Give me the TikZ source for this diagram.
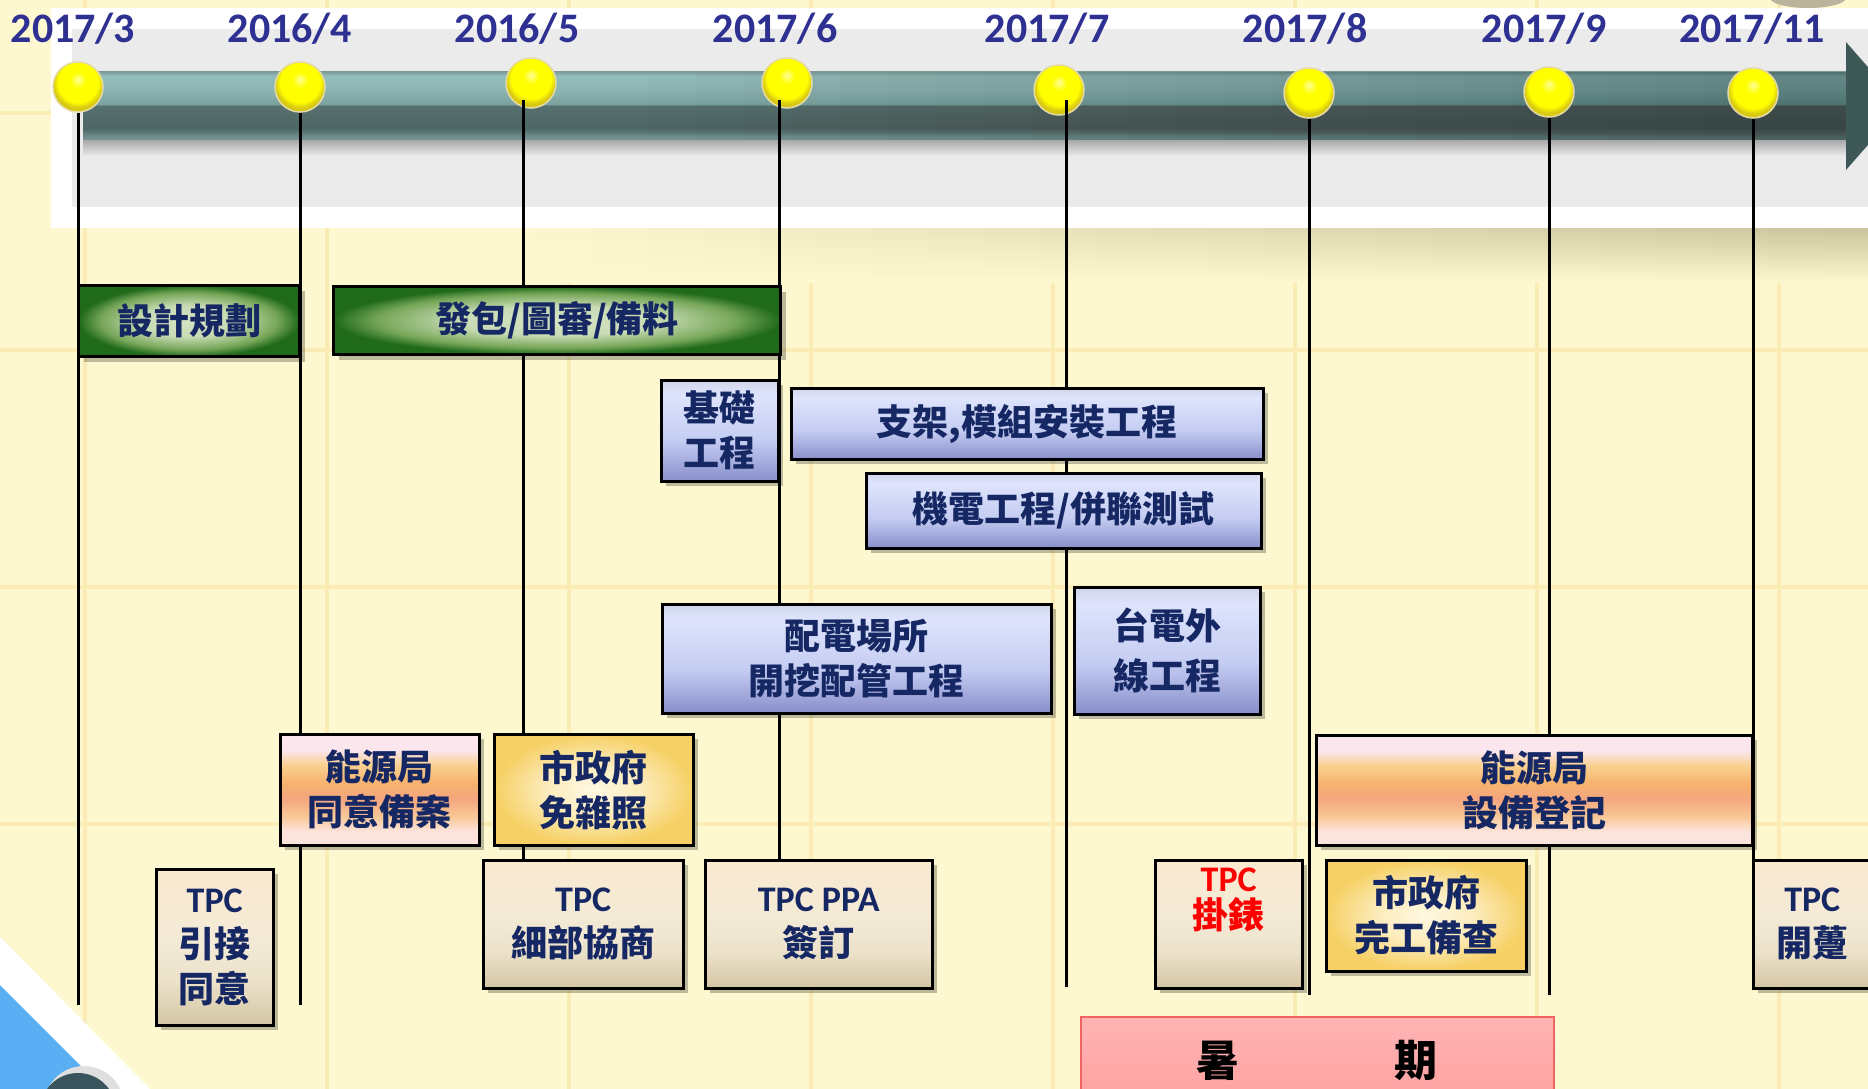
\documentclass[tikz,border=0pt]{standalone}
\usepackage{fontspec}
\setmainfont{Carlito}
\newfontfamily\lat{Carlito}
\newfontfamily\cjk{Noto Sans CJK TC}
\usetikzlibrary{shadows}

% colours
\definecolor{bgyellow}{RGB}{253,248,208}
\definecolor{gridyellow}{RGB}{250,236,180}
\definecolor{datecol}{RGB}{46,49,146}
\definecolor{navy}{RGB}{22,40,100}
\definecolor{panelgray}{RGB}{235,235,235}
\definecolor{panelshade}{RGB}{200,194,154}
\definecolor{arrowdark}{RGB}{62,88,88}
\definecolor{pinrim}{RGB}{228,218,165}
\definecolor{pinhi}{RGB}{255,255,150}
\definecolor{pinedge}{RGB}{215,200,20}
\definecolor{cornerblue}{RGB}{90,174,243}
\definecolor{cornerdark}{RGB}{58,84,94}
\definecolor{blobgray}{RGB}{185,180,155}
\definecolor{summertop}{RGB}{255,180,180}
\definecolor{summerbot}{RGB}{255,160,160}
\definecolor{summerline}{RGB}{240,100,100}
% box fills
\definecolor{glight}{RGB}{214,228,196}
\definecolor{gmid}{RGB}{118,166,88}
\definecolor{gdark}{RGB}{32,106,28}
\definecolor{btop}{RGB}{222,228,252}
\definecolor{bmid}{RGB}{196,204,242}
\definecolor{bbot}{RGB}{136,142,202}
\definecolor{pk1}{RGB}{251,230,238}
\definecolor{pk2}{RGB}{249,208,142}
\definecolor{pk3}{RGB}{246,178,110}
\definecolor{pk4}{RGB}{245,166,126}
\definecolor{pk5}{RGB}{248,200,150}
\definecolor{pk6}{RGB}{252,228,222}
\definecolor{gold1}{RGB}{255,248,226}
\definecolor{gold2}{RGB}{246,208,100}
\definecolor{tan1}{RGB}{251,233,208}
\definecolor{tan2}{RGB}{243,234,214}
\definecolor{tan3}{RGB}{212,198,164}
% bar
\definecolor{bar1}{RGB}{127,159,157}
\definecolor{bar2}{RGB}{147,190,188}
\definecolor{bar3}{RGB}{140,181,178}
\definecolor{bar4}{RGB}{124,162,159}
\definecolor{bar5}{RGB}{85,112,110}
\definecolor{bar6}{RGB}{78,102,100}
\definecolor{bar7}{RGB}{90,118,116}
\definecolor{bar8}{RGB}{110,141,139}
\definecolor{bar9}{RGB}{122,150,148}

\pgfdeclareradialshading{yball}{\pgfpoint{0bp}{8bp}}{color(0bp)=(pinhi); color(8bp)=(yellow); color(20bp)=(yellow); color(25bp)=(pinedge); color(50bp)=(pinedge)}
\pgfdeclareradialshading{greenglow}{\pgfpoint{0bp}{0bp}}{color(0bp)=(glight); color(11bp)=(glight!85!gmid); color(20bp)=(gmid); color(25bp)=(gdark); color(50bp)=(gdark)}
\pgfdeclareradialshading{goldglow}{\pgfpoint{0bp}{0bp}}{color(0bp)=(gold1); color(12bp)=(gold1!70!gold2); color(25bp)=(gold2); color(50bp)=(gold2)}
\pgfdeclareverticalshading{bluefade}{100bp}{color(0bp)=(bbot); color(25bp)=(bbot); color(45bp)=(bmid); color(68bp)=(btop); color(75bp)=(btop!85!gray); color(100bp)=(btop!85!gray)}
\pgfdeclareverticalshading{peachband}{100bp}{color(0bp)=(pk6); color(31bp)=(pk6); color(38bp)=(pk5); color(46bp)=(pk4); color(53bp)=(pk3); color(61bp)=(pk2); color(68bp)=(pk1); color(100bp)=(pk1)}
\pgfdeclareverticalshading{tanfade}{100bp}{color(0bp)=(tan3); color(25bp)=(tan3); color(40bp)=(tan2!80!tan3); color(52bp)=(tan2); color(75bp)=(tan1); color(100bp)=(tan1)}
\pgfdeclareverticalshading{tlbar}{100bp}{color(0bp)=(bar9); color(25bp)=(bar9); color(28bp)=(bar8); color(31bp)=(bar7); color(34bp)=(bar6); color(50bp)=(bar5); color(51.5bp)=(bar4); color(62bp)=(bar3); color(72bp)=(bar2); color(75bp)=(bar1); color(100bp)=(bar1)}

\pgfdeclarelayer{back}
\pgfdeclarelayer{stems}
\pgfsetlayers{back,stems,main}

\tikzset{
	datelbl/.style={anchor=base, text=datecol, font=\lat\bfseries\fontsize{42}{50}\selectfont},
	yellowpin/.style={circle, minimum size=50pt, inner sep=0pt, shade, shading=yball, draw=pinrim, line width=1.5pt},
	stemline/.style={line width=3pt, black},
	bggrid/.style={gridyellow, line width=4pt},
	taskbox/.style={draw=black, line width=2.5pt, anchor=north west, align=center, inner sep=0pt,
		text=navy, font=\cjk\bfseries\fontsize{36}{45}\selectfont,
		drop shadow={shadow xshift=5pt, shadow yshift=-5pt, opacity=.25, fill=black}},
	greenbox/.style={taskbox, line width=3pt, shade, shading=greenglow},
	bluebox/.style={taskbox, shade, shading=bluefade},
	peachbox/.style={taskbox, shade, shading=peachband},
	goldbox/.style={taskbox, shade, shading=goldglow},
	tanbox/.style={taskbox, shade, shading=tanfade},
	redlbl/.style={anchor=north, align=center, inner sep=0pt, text=red, font=\cjk\bfseries\fontsize{36}{37}\selectfont},
	summerbox/.style={draw=summerline, line width=1.5pt, anchor=north west, inner sep=0pt,
		top color=summertop, bottom color=summerbot, text=black, font=\cjk\bfseries\fontsize{43}{50}\selectfont}
}

\begin{document}
\begin{tikzpicture}[x=1pt,y=-1pt]
	\useasboundingbox (0,0) rectangle (1868,1089);

	\begin{pgfonlayer}{back}
		% background and grid
		\fill[bgyellow] (0,0) rectangle (1868,1089);
		\foreach \x in {85,327,...,1779} \draw[bggrid] (\x,0) -- (\x,1089);
		\foreach \y in {113,350,...,1059} \draw[bggrid] (0,\y) -- (1868,\y);

		% corner decorations
		\fill[blobgray] (1808,-2) ellipse (38 and 10);
		\fill[white] (0,937) -- (150,1089) -- (0,1089) -- cycle;
		\fill[cornerblue] (0,985) -- (104,1089) -- (0,1089) -- cycle;
		\fill[gray!25] (84,1106) circle (40);
		\fill[cornerdark] (78,1111) circle (38);

		% panel behind the time line
		\foreach \i in {0,...,24}
			\shade[top color=panelshade!\the\numexpr 4*\i\relax!bgyellow, bottom color=bgyellow]
				(480+56*\i,228) rectangle (540+56*\i,282);
		\fill[white] (51,8) rectangle (1880,228);
		\fill[panelgray] (72,29) rectangle (1880,207);

		% time line bar
		\shade[top color=gray!75, bottom color=panelgray] (83,138) rectangle (1850,156);
		\shade[shading=tlbar] (83,72) rectangle (1852,140);
		\foreach \i in {1,...,24}
			\fill[black, opacity=.013] (600+48*\i,72) rectangle (1852,140);
		\fill[arrowdark] (1846,42) -- (1902,106) -- (1846,170) -- cycle;

		% month pins
		\foreach \x/\y [count=\i] in {78/87, 300/87, 531/83, 787/83, 1059/90, 1309/93, 1549/92, 1753/93}
			\node[yellowpin] (b\i) at (\x,\y) {};
	\end{pgfonlayer}

	% month labels
	\foreach \x/\yr/\mo in {73/2017/3, 290/2016/4, 517/2016/5, 775/2017/6, 1047/2017/7, 1305/2017/8, 1544/2017/9, 1752/2017/11}
		\node[datelbl] (d\mo) at (\x,43) {\yr/\mo};

	%% Tasks %%
	\node[greenbox, minimum width=221pt, minimum height=71pt] (plan) at (77,284) {設計規劃};
	\node[greenbox, minimum width=447pt, minimum height=68pt] (bid) at (332,285) {發包/圖審/備料};

	\node[bluebox, minimum width=117pt, minimum height=101pt] (found) at (660,379) {基礎\\工程};
	\node[bluebox, minimum width=472pt, minimum height=71pt] (mount) at (790,387) {支架,模組安裝工程};
	\node[bluebox, minimum width=395pt, minimum height=75pt] (elec) at (865,472) {機電工程/併聯測試};
	\node[bluebox, minimum width=389pt, minimum height=109pt] (sub) at (661,603) {配電場所\\開挖配管工程};
	\node[bluebox, minimum width=186pt, minimum height=127pt] (ext) at (1073,586) {台電外\\[5pt]線工程};

	% permits
	\node[peachbox, minimum width=199pt, minimum height=111pt] (moea1) at (279,733) {能源局\\同意備案};
	\node[goldbox, minimum width=199pt, minimum height=111pt] (city1) at (493,733) {市政府\\免雜照};
	\node[peachbox, minimum width=436pt, minimum height=110pt] (moea2) at (1315,734) {能源局\\設備登記};
	\node[goldbox, minimum width=200pt, minimum height=111pt] (city2) at (1325,859) {市政府\\完工備查};

	% TPC steps
	\node[tanbox, minimum width=117pt, minimum height=156pt] (tpc1) at (155,868) {{\lat TPC}\\引接\\同意};
	\node[tanbox, minimum width=200pt, minimum height=128pt] (tpc2) at (482,859) {{\lat TPC}\\細部協商};
	\node[tanbox, minimum width=227pt, minimum height=128pt] (tpc3) at (704,859) {{\lat TPC PPA}\\簽訂};
	\node[tanbox, minimum width=147pt, minimum height=128pt] (tpc4) at (1154,859) {};
	\node[redlbl] (tpc4txt) at ([yshift=-9pt]tpc4.north) {{\lat TPC}\\掛錶};
	\node[tanbox, minimum width=118pt, minimum height=128pt] (tpc5) at (1752,859) {{\lat TPC}\\開躉};

	% summer break
	\node[summerbox, minimum width=473pt, minimum height=88pt] (summer) at (1080,1016) {暑\hspace{155pt}期};

	% stems from the pins
	\coordinate (t3) at (523,100);
	\coordinate (t4) at (779,100);
	\coordinate (t5) at (1066,100);
	\coordinate (e1) at (78,1005);
	\coordinate (e2) at (300,1005);
	\coordinate (e5) at (1066,987);
	\coordinate (e6) at (1309,995);
	\coordinate (e7) at (1549,995);
	\begin{pgfonlayer}{stems}
		\draw[stemline] (b1.south) -- (e1);
		\draw[stemline] (b2.south) -- (e2);
		\draw[stemline] (t3) -- (t3 |- tpc2.north);
		\draw[stemline] (t4) -- (t4 |- tpc3.north);
		\draw[stemline] (t5) -- (e5);
		\draw[stemline] (b6.south) -- (e6);
		\draw[stemline] (b7.south) -- (e7);
		\draw[stemline] (b8.south) -- (b8 |- tpc5.north);
	\end{pgfonlayer}

\end{tikzpicture}
\end{document}
